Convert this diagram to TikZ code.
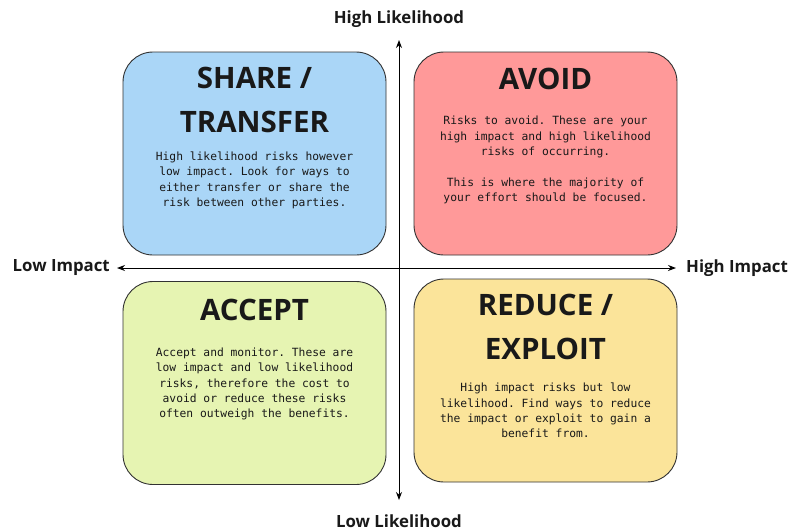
\documentclass[tikz,border=0pt]{standalone}
\usepackage{fontspec}
\setmainfont{Open Sans}
\setmonofont{DejaVu Sans Mono}
\usetikzlibrary{arrows.meta}
\definecolor{qblue}{RGB}{170,214,247}
\definecolor{qred}{RGB}{255,153,153}
\definecolor{qgreen}{RGB}{230,244,178}
\definecolor{qyellow}{RGB}{251,228,154}
\definecolor{qedge}{RGB}{50,50,50}
\definecolor{qtext}{RGB}{25,25,25}
\tikzset{
  quad/.style={draw=qedge, line width=0.9pt, rounded corners=30pt, minimum width=263pt, minimum height=203pt, inner sep=0pt},
  qtitle/.style={font=\fontsize{29.5}{43.5}\selectfont\bfseries, text=qtext, align=center, inner sep=0pt},
  qbody/.style={font=\ttfamily\fontsize{11.3}{15.4}\selectfont, text=qtext, align=center, inner sep=0pt},
  axlabel/.style={font=\fontsize{16.8}{20}\selectfont\bfseries, text=qtext, inner sep=0pt},
  axis/.style={line width=1pt, draw=black, {Stealth[length=8pt,width=6pt]}-{Stealth[length=8pt,width=6pt]}}
}
\begin{document}
\begin{tikzpicture}[x=1pt,y=-1pt]
\useasboundingbox[fill=white] (0,0) rectangle (789,531);
% quadrants
\node[quad, fill=qblue] (share) at (254.5,153.5) {};
\node[quad, fill=qred] (avoid) at (545.5,153.5) {};
\node[quad, fill=qgreen] (accept) at (254.5,383) {};
\node[quad, fill=qyellow] (reduce) at (545.5,380.5) {};
% axes
\coordinate (top) at (399,40);
\coordinate (bottom) at (399,500);
\coordinate (left) at (117,268);
\coordinate (right) at (676,268);
\draw[axis] (bottom) -- (top);
\draw[axis] (left) -- (right);
% axis labels
\node[axlabel] (hl) at (399,19) {High Likelihood};
\node[axlabel] (ll) at (399,521) {Low Likelihood};
\node[axlabel, anchor=east] (li) at (110,268) {Low Impact};
\node[axlabel, anchor=west] (hi) at (686,268) {High Impact};
% titles
\node[qtitle] (t1) at (254.5,100) {SHARE /\\TRANSFER};
\node[qtitle] (t2) at (545.5,79) {AVOID};
\node[qtitle] (t3) at (254.5,310) {ACCEPT};
\node[qtitle] (t4) at (545.5,327) {REDUCE /\\EXPLOIT};
% bodies
\node[qbody] (b1) at (254.5,180.5) {High likelihood risks however\\low impact. Look for ways to\\either transfer or share the\\risk between other parties.};
\node[qbody] (b2) at (545.5,160) {Risks to avoid. These are your\\high impact and high likelihood\\risks of occurring.\\[15.4pt]This is where the majority of\\your effort should be focused.};
\node[qbody] (b3) at (254.5,384) {Accept and monitor. These are\\low impact and low likelihood\\risks, therefore the cost to\\avoid or reduce these risks\\often outweigh the benefits.};
\node[qbody] (b4) at (545.5,410.5) {High impact risks but low\\likelihood. Find ways to reduce\\the impact or exploit to gain a\\benefit from.};
\end{tikzpicture}
\end{document}
